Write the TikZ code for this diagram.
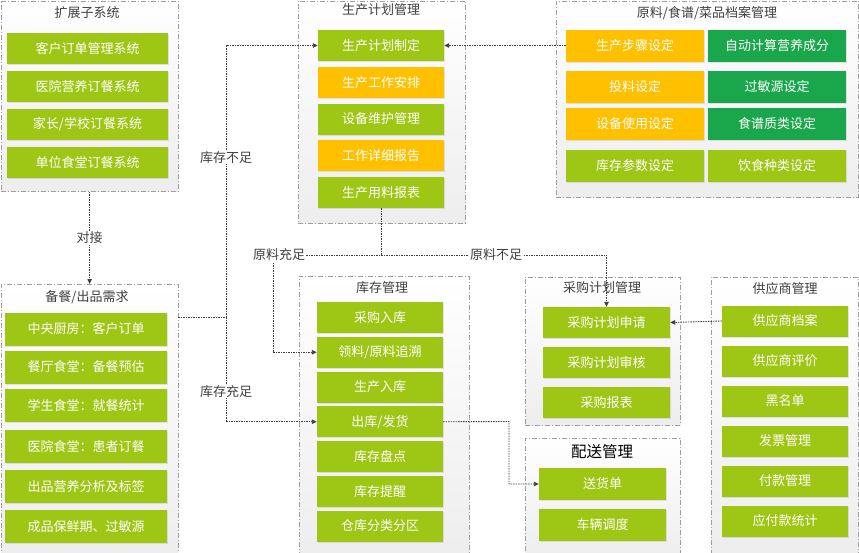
\documentclass[tikz,border=0pt]{standalone}
\usepackage{fontspec}
\setmainfont{Noto Sans CJK SC}
\usetikzlibrary{arrows.meta,shadows}
\definecolor{sprout}{HTML}{9EC614}
\definecolor{amber}{HTML}{FFC000}
\definecolor{leaf}{HTML}{1AA64A}
\definecolor{ink}{HTML}{404040}
\tikzset{
    grp/.style={draw=gray!75, line width=0.8pt, dash pattern=on 5pt off 2pt on 1pt off 2pt,
        top color=white, bottom color=gray!14, anchor=north west, inner sep=0pt},
    head/.style={text=ink, font=\fontsize{13}{15}\selectfont},
    item/.style={text=white, font=\fontsize{13}{15}\selectfont, inner sep=0pt,
        drop shadow={opacity=0.2, shadow xshift=1pt, shadow yshift=-1pt}},
    link/.style={draw=ink, line width=0.9pt, dash pattern=on 1.5pt off 1pt},
    lab/.style={fill=white, text=ink, inner sep=1pt, font=\fontsize{13}{15}\selectfont},
    >={Triangle[length=5pt,width=4.5pt]}
}
\begin{document}
\begin{tikzpicture}[x=1pt, y=-1pt]
    \useasboundingbox (0,0) rectangle (859,552);
    \clip (0,0) rectangle (859,552);
    % groups
    \node[grp, minimum width=177.5pt, minimum height=190.5pt] (ext) at (0.5,0.5) {};
    \node[grp, minimum width=177.5pt, minimum height=276pt] (prep) at (0.5,284) {};
    \node[grp, minimum width=167pt, minimum height=222.5pt] (plan) at (298,0.5) {};
    \node[grp, minimum width=302pt, minimum height=196.5pt] (arch) at (556,0.5) {};
    \node[grp, minimum width=170pt, minimum height=284pt] (stock) at (299,276) {};
    \node[grp, minimum width=155pt, minimum height=148pt] (purch) at (525,277) {};
    \node[grp, minimum width=155pt, minimum height=122pt] (deliv) at (525,438) {};
    \node[grp, minimum width=147pt, minimum height=283pt] (supp) at (711,277) {};
    % titles
    \node[head] (extt) at (87,13) {扩展子系统};
    \node[head] (prept) at (87,297) {备餐/出品需求};
    \node[head] (plant) at (381,10) {生产计划管理};
    \node[head] (archt) at (707,13) {原料/食谱/菜品档案管理};
    \node[head] (stockt) at (382,288) {库存管理};
    \node[head] (purcht) at (602,288) {采购计划管理};
    \node[head, text=black, font=\fontsize{15.5}{18}\selectfont] (delivt) at (602,452) {配送管理};
    \node[head] (suppt) at (785,289) {供应商管理};
    % boxes
    \foreach \t [count=\i] in {客户订单管理系统,医院营养订餐系统,家长/学校订餐系统,单位食堂订餐系统}
        \node[item, fill=sprout, minimum width=161pt, minimum height=31pt] (ex\i) at (87.5,10.5+38*\i) {\t};
    \foreach \t/\y [count=\i] in {中央厨房：客户订单/329,餐厅食堂：备餐预估/367,学生食堂：就餐统计/405,
        医院食堂：患者订餐/446,出品营养分析及标签/486.5,成品保鲜期、过敏源/526.5}
        \node[item, fill=sprout, minimum width=162pt, minimum height=33pt] (pr\i) at (86,\y) {\t};
    \foreach \t/\c [count=\i] in {生产计划制定/sprout,生产工作安排/amber,设备维护管理/sprout,工作详细报告/amber,生产用料报表/sprout}
        \node[item, fill=\c, minimum width=126pt, minimum height=31pt] (pl\i) at (381,8.75+36.75*\i) {\t};
    \foreach \t/\c/\y [count=\i] in {生产步骤设定/amber/45.5,投料设定/amber/86.5,设备使用设定/amber/124,库存参数设定/sprout/166}
        \node[item, fill=\c, minimum width=138pt, minimum height=32pt] (arl\i) at (635,\y) {\t};
    \foreach \t/\c/\y [count=\i] in {自动计算营养成分/leaf/45.5,过敏源设定/leaf/86.5,食谱质类设定/leaf/124,饮食种类设定/sprout/166}
        \node[item, fill=\c, minimum width=138pt, minimum height=32pt] (arr\i) at (777,\y) {\t};
    \foreach \t [count=\i] in {采购入库,领料/原料追溯,生产入库,出库/发货,库存盘点,库存提醒,仓库分类分区}
        \node[item, fill=sprout, minimum width=126pt, minimum height=31pt] (st\i) at (380,282.75+34.75*\i) {\t};
    \foreach \t [count=\i] in {采购计划申请,采购计划审核,采购报表}
        \node[item, fill=sprout, minimum width=127pt, minimum height=31pt] (pu\i) at (606.5,282.5+40*\i) {\t};
    \foreach \t [count=\i] in {送货单,车辆调度}
        \node[item, fill=sprout, minimum width=127pt, minimum height=32pt] (de\i) at (602.5,443+41*\i) {\t};
    \foreach \t [count=\i] in {供应商档案,供应商评价,黑名单,发票管理,付款管理,应付款统计}
        \node[item, fill=sprout, minimum width=126pt, minimum height=31pt] (su\i) at (785,281+40*\i) {\t};
    % connectors
    \coordinate (prepout) at (178,317);
    \coordinate (split) at (226,317);
    \coordinate (okc) at (273,255);
    \coordinate (jn) at (pl5.south |- okc);
    \coordinate (dturn) at (509,421.5);
    \draw[link,->] (ext.south) -- (prep.north) node[lab, midway] (dj) {对接};
    \draw[link] (prepout) -- (split);
    \draw[link,->] (split) |- (pl1.west) node[lab, pos=0.294] (lack) {库存不足}; %to plan
    \draw[link,->] (split) |- (st4.west) node[lab, pos=0.354] (enough) {库存充足}; %to stock
    \draw[link,->] (arl1.west) -- (pl1.east);
    \draw[link,->] (pl5.south) |- (okc) |- (st2.west);
    \draw[link,->] (jn) -| (pu1.north);
    \node[lab] (ok) at (279,255) {原料充足};
    \node[lab] (short) at (496,255) {原料不足};
    \draw[link,->] (st4.east) -- (dturn) |- (de1.west); %delivery
    \draw[link,->] (su1.west) -- (pu1.east);
\end{tikzpicture}
\end{document}
